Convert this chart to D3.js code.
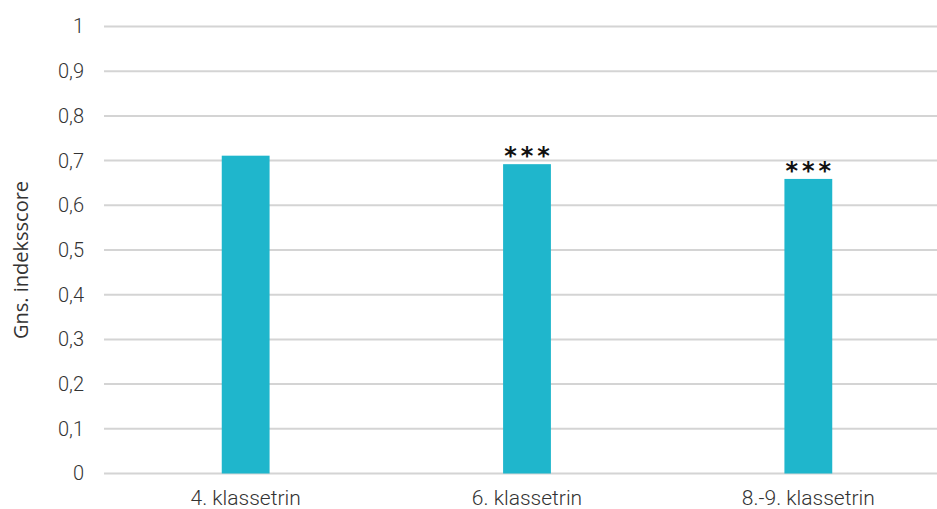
<!DOCTYPE html>
<html>
<head>
<meta charset="utf-8">
<script src="https://cdn.jsdelivr.net/npm/d3@7/dist/d3.min.js"></script>
<style>
  html, body { margin: 0; padding: 0; background: #ffffff; }
  svg { display: block; }
</style>
</head>
<body>
<svg id="chart" width="937" height="509"></svg>
<script>
const categories = ["4. klassetrin", "6. klassetrin", "8.-9. klassetrin"];
const values = [0.711, 0.692, 0.659];
const significance = ["", "***", "***"];
const yTicks = [0, 0.1, 0.2, 0.3, 0.4, 0.5, 0.6, 0.7, 0.8, 0.9, 1];
const yLabel = "Gns. indeksscore";

const svg = d3.select("#chart");
const W = 937, H = 509;

const y = d3.scaleLinear().domain([0, 1]).range([473.5, 26.5]);
const x = d3.scaleBand().domain(categories).range([105, 949]).paddingInner(0.83).paddingOuter(0.415);

const fmt = d => d === 0 ? "0" : d === 1 ? "1" : d3.format(".1f")(d).replace(".", ",");

// gridlines
svg.append("g").selectAll("line").data(yTicks).join("line")
  .attr("x1", 104).attr("x2", W)
  .attr("y1", d => y(d)).attr("y2", d => y(d))
  .attr("stroke", "#d4d4d4").attr("stroke-width", 2);

// y axis labels
const yAxis = d3.axisLeft(y).tickValues(yTicks).tickFormat(fmt).tickSize(0).tickPadding(0);
const gy = svg.append("g").attr("transform", "translate(84,0)").call(yAxis);
gy.select(".domain").remove();
gy.selectAll("text")
  .attr("font-family", "Roboto, sans-serif").attr("font-size", 20).attr("font-weight", 300)
  .attr("fill", "#333");

// bars
svg.append("g").selectAll("rect").data(values).join("rect")
  .attr("x", (d, i) => x(categories[i]))
  .attr("width", x.bandwidth())
  .attr("y", d => y(d))
  .attr("height", d => y(0) - y(d))
  .attr("fill", "#1fb6cc");

// significance stars
svg.append("g").selectAll("text").data(values).join("text")
  .attr("x", (d, i) => x(categories[i]) + x.bandwidth() / 2 + 2)
  .attr("y", d => y(d))
  .attr("text-anchor", "middle")
  .attr("font-family", "DejaVu Sans, sans-serif").attr("font-size", 24).attr("font-weight", "bold")
  .attr("letter-spacing", 4)
  .attr("fill", "#111")
  .text((d, i) => significance[i]);

// x axis labels
const xAxis = d3.axisBottom(x).tickSize(0).tickPadding(0);
const gx = svg.append("g").attr("transform", "translate(0,505)").call(xAxis);
gx.select(".domain").remove();
gx.selectAll("text")
  .attr("dy", 0)
  .attr("font-family", "Roboto, sans-serif").attr("font-size", 21).attr("font-weight", 300)
  .attr("fill", "#333");

// y label
svg.append("text")
  .attr("transform", "translate(28,260) rotate(-90)")
  .attr("text-anchor", "middle")
  .attr("font-family", "Open Sans, sans-serif").attr("font-size", 20)
  .attr("fill", "#333")
  .text(yLabel);
</script>
</body>
</html>
